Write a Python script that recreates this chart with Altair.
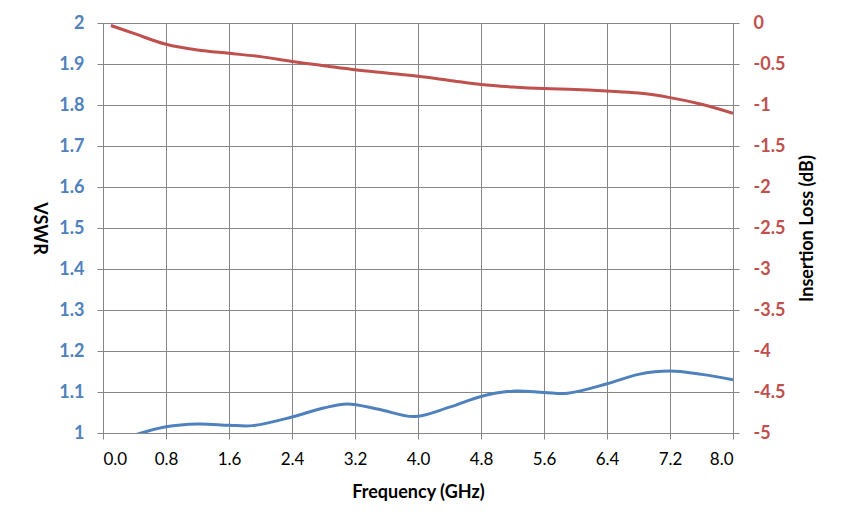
import altair as alt
import pandas as pd

# Frequency (GHz) and VSWR readings
freq_vswr = [0.1, 0.4, 0.8, 1.2, 1.6, 1.9, 2.4, 2.8, 3.1, 3.5, 3.95, 4.4, 4.8, 5.2, 5.6, 5.9, 6.4, 6.8, 7.2, 7.6, 8.0]
vswr = [0.975, 0.995, 1.015, 1.022, 1.019, 1.018, 1.039, 1.061, 1.071, 1.058, 1.040, 1.063, 1.089, 1.102, 1.099, 1.097, 1.120, 1.143, 1.151, 1.143, 1.130]

# Frequency (GHz) and insertion loss (dB) readings
freq_il = [0.1, 0.4, 0.8, 1.2, 1.6, 2.0, 2.4, 2.8, 3.2, 3.6, 4.0, 4.4, 4.8, 5.2, 5.6, 6.0, 6.4, 6.8, 7.2, 7.6, 8.0]
il = [-0.03, -0.13, -0.26, -0.33, -0.37, -0.41, -0.47, -0.52, -0.57, -0.61, -0.65, -0.70, -0.75, -0.78, -0.80, -0.81, -0.83, -0.855, -0.91, -0.99, -1.10]

x_ticks = [0.0, 0.8, 1.6, 2.4, 3.2, 4.0, 4.8, 5.6, 6.4, 7.2, 8.0]
vswr_ticks = [1.0, 1.1, 1.2, 1.3, 1.4, 1.5, 1.6, 1.7, 1.8, 1.9, 2.0]
il_ticks = [0, -0.5, -1, -1.5, -2, -2.5, -3, -3.5, -4, -4.5, -5]

df_v = pd.DataFrame({"freq": freq_vswr, "vswr": vswr})
df_i = pd.DataFrame({"freq": freq_il, "il": il})

FONT = "Lato"
GRID = "#868686"
BLUE = "#4F81BD"
RED = "#C0504D"

x_enc = alt.X(
    "freq:Q",
    scale=alt.Scale(domain=[0, 8], nice=False, zero=False),
    axis=alt.Axis(
        values=x_ticks, format=".1f", title="Frequency (GHz)",
        grid=True, gridColor=GRID, gridWidth=1,
        domainColor=GRID, tickColor=GRID, tickSize=6,
        labelFont=FONT, labelFontSize=17, labelColor="#000000",
        labelPadding=20, labelBaseline="middle",
        titleFont=FONT, titleFontSize=18, titleFontWeight="bold", titleColor="#000000",
        titleX=315, titleY=59, titleBaseline="middle", titleAlign="center",
    ),
)

v_line = alt.Chart(df_v).mark_line(
    color=BLUE, strokeWidth=3, interpolate="catmull-rom", clip=True
).encode(
    x=x_enc,
    y=alt.Y(
        "vswr:Q",
        scale=alt.Scale(domain=[1, 2], nice=False, zero=False),
        axis=alt.Axis(
            values=vswr_ticks, title="VSWR", orient="left",
            labelExpr="datum.value + ''",
            grid=True, gridColor=GRID, gridWidth=1,
            domainColor=GRID, tickColor=GRID, tickSize=6,
            labelFont=FONT, labelFontSize=18, labelFontWeight="bold", labelColor=BLUE,
            labelPadding=13,
            titleFont=FONT, titleFontSize=18, titleFontWeight="bold", titleColor="#000000",
            titleAngle=90, titleX=-65, titleY=205, titleBaseline="middle", titleAlign="center",
        ),
    ),
)

i_line = alt.Chart(df_i).mark_line(
    color=RED, strokeWidth=3, interpolate="catmull-rom", clip=True
).encode(
    x=alt.X("freq:Q", scale=alt.Scale(domain=[0, 8], nice=False, zero=False)),
    y=alt.Y(
        "il:Q",
        scale=alt.Scale(domain=[-5, 0], nice=False, zero=False),
        axis=alt.Axis(
            values=il_ticks, title="Insertion Loss (dB)", orient="right",
            labelExpr="datum.value + ''",
            grid=False,
            domainColor=GRID, tickColor=GRID, tickSize=6,
            labelFont=FONT, labelFontSize=18, labelFontWeight="bold", labelColor=RED,
            labelPadding=14,
            titleFont=FONT, titleFontSize=18, titleFontWeight="bold", titleColor="#000000",
            titleAngle=270, titleX=74, titleY=205, titleBaseline="middle", titleAlign="center",
        ),
    ),
)

chart = alt.layer(v_line, i_line).resolve_scale(y="independent").properties(
    width=630, height=410,
    autosize=alt.AutoSizeParams(type="none"),
    padding={"left": 95, "top": 15, "right": 103, "bottom": 88},
).configure_view(stroke=GRID, strokeWidth=1).configure(background="white")

chart.save("out.html", embed_options={"renderer": "svg", "actions": False})
